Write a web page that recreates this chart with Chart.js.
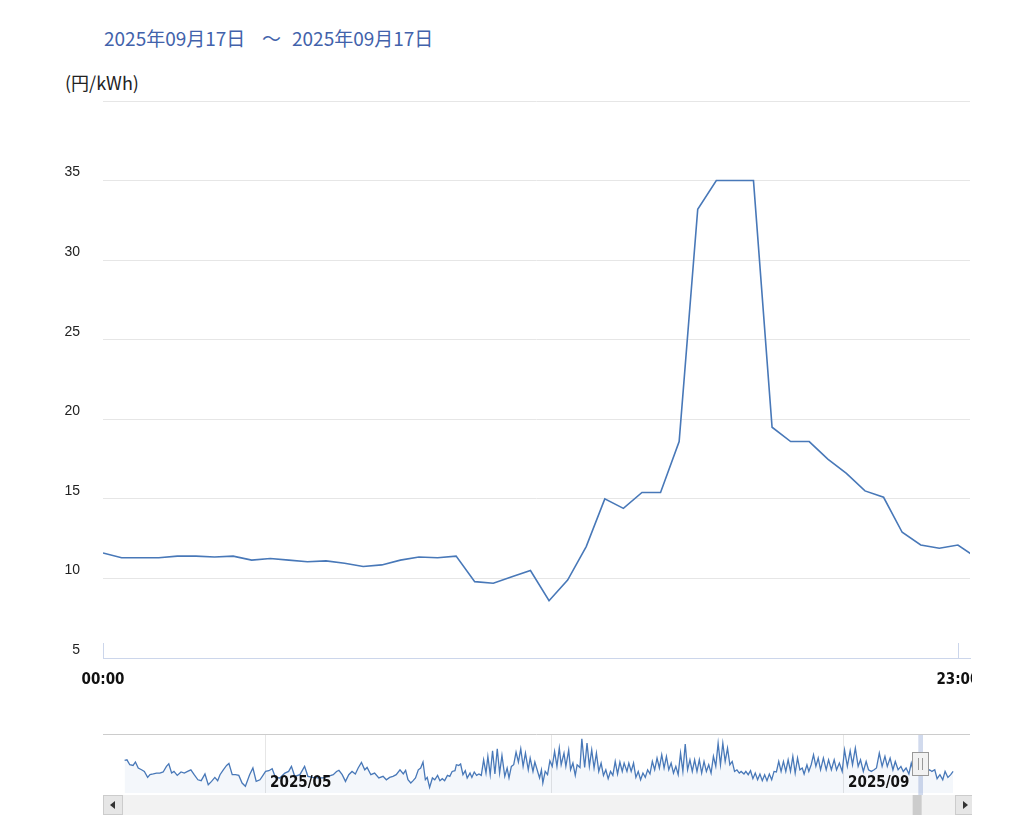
<!DOCTYPE html>
<html>
<head>
<meta charset="utf-8">
<script src="https://cdn.jsdelivr.net/npm/chart.js@4.4.1/dist/chart.umd.min.js"></script>
<style>
  body { margin: 0; background: #fff; width: 1024px; height: 835px; overflow: hidden; position: relative; font-family: "Noto Sans CJK JP", sans-serif; }
  .range { position: absolute; top: 28px; color: #4262ab; font-size: 19px; line-height: 19px; white-space: pre; }
  #unit { position: absolute; top: 73px; left: 65px; font-size: 18px; line-height: 18px; color: #222; }
  #mainBox { position: absolute; left: 0; top: 0; width: 972px; height: 700px; }
  #navBox { position: absolute; left: 0; top: 720px; width: 972px; height: 100px; }
</style>
</head>
<body>
<div class="range" style="left:104px">2025年09月17日</div>
<div class="range" style="left:262px">～</div>
<div class="range" style="left:292px">2025年09月17日</div>
<div id="unit">(円/kWh)</div>
<div id="mainBox"><canvas id="main"></canvas></div>
<div id="navBox"><canvas id="nav"></canvas></div>
<script>
// 30-minute slots for 2025/09/17
const slots = ["00:00","00:30","01:00","01:30","02:00","02:30","03:00","03:30","04:00","04:30","05:00","05:30",
  "06:00","06:30","07:00","07:30","08:00","08:30","09:00","09:30","10:00","10:30","11:00","11:30",
  "12:00","12:30","13:00","13:30","14:00","14:30","15:00","15:30","16:00","16:30","17:00","17:30",
  "18:00","18:30","19:00","19:30","20:00","20:30","21:00","21:30","22:00","22:30","23:00","23:30"];
const prices = [11.6,11.3,11.3,11.3,11.4,11.4,11.35,11.4,11.15,11.25,11.15,11.05,
  11.1,10.95,10.75,10.85,11.15,11.35,11.3,11.4,9.8,9.7,10.1,10.5,
  8.6,9.9,12.0,15.0,14.4,15.4,15.4,18.6,33.2,35,35,35,
  19.5,18.6,18.6,17.5,16.6,15.5,15.1,12.9,12.1,11.9,12.1,11.3];
const xTickLabels = ["00:00", "23:00"];
const yTicks = [5, 10, 15, 20, 25, 30, 35, 40];
const yHidden = [40];

// navigator: days since 2025/04/01 and price
const navDays = [0.1,0.6,1.2,1.9,2.4,3.0,3.7,4.3,5.0,5.5,6.2,6.9,7.6,8.3,9.0,9.5,10.1,10.6,11.3,12.1,12.8,13.5,14.2,14.9,
  15.7,16.4,17.2,17.9,18.6,19.3,19.9,20.4,21.1,21.8,22.3,23.0,23.7,24.4,25.1,25.8,26.7,27.4,28.1,28.9,
  29.4,30.1,30.8,31.5,32.2,33.1,34.2,35.0,35.6,36.3,37.4,38.4,39.1,40.2,41.3,42.3,43.4,44.5,45.2,45.7,
  46.4,47.1,47.8,48.5,49.2,49.8,50.5,51.2,51.7,52.5,53.3,54.2,55.1,55.8,56.5,57.2,57.9,58.7,
  59.4,59.9,60.4,61.0,61.5,62.0,62.6,63.1,63.6,64.1,64.5,65.0,65.6,66.1,66.7,67.2,67.7,68.2,68.8,69.3,
  69.8,70.4,70.7,71.2,71.6,72.1,72.6,73.0,73.6,74.0,74.5,75.0,75.5,76.0,76.5,77.0,77.4,77.9,78.4,78.9,
  79.4,79.9,80.4,81.0,81.5,81.9,82.4,82.9,83.4,83.9,84.4,84.9,85.4,86.0,86.4,87.0,87.4,
  88.4,88.8,89.1,89.6,90.1,90.6,91.1,91.6,92.1,92.6,93.0,93.6,94.0,94.6,95.0,95.5,96.0,96.4,97.0,97.4,
  98.0,98.5,99.0,99.5,100.0,100.5,101.0,101.5,102.0,102.5,103.0,103.5,104.0,104.5,105.0,105.5,106.0,
  106.4,107.0,107.4,107.9,108.4,108.9,109.4,109.9,110.4,110.9,111.4,111.9,112.4,112.9,113.4,113.9,
  114.4,114.9,115.4,115.9,116.4,116.9,117.4,117.9,
  118.4,118.9,119.4,119.9,120.4,120.9,121.4,121.9,122.4,122.9,123.4,123.9,124.4,124.9,125.4,125.9,
  126.4,126.9,127.4,127.9,128.4,128.9,129.4,129.9,130.4,130.9,131.3,131.9,132.3,132.8,133.3,133.8,
  134.3,134.8,135.3,135.8,136.3,136.8,137.3,137.8,138.3,138.8,139.3,139.8,140.3,140.8,141.3,141.8,
  142.3,142.8,143.3,143.8,144.3,144.7,145.3,145.7,146.2,146.7,147.2,147.7,
  148.2,148.8,149.4,149.9,150.5,151.1,151.6,152.2,152.8,153.3,153.9,154.5,155.0,155.6,156.2,156.7,
  157.3,157.9,158.4,159.0,159.6,160.1,160.7,161.3,161.9,162.4,163.0,163.6,164.1,164.7,165.3,165.8,
  166.4,167.0,167.5,168.0,168.5,169.0,169.5,170.0,170.5,171.0,171.4,171.9,172.5,173.0,173.6,174.2,
  174.7,175.3,175.9,176.4];
const navPrices = [23.0,23.3,20.6,20.2,22.1,18.8,17.8,16.9,13.6,15.1,15.5,16.0,16.0,16.6,19.7,21.1,16.0,16.9,14.7,16.6,16.0,16.9,17.8,15.1,
  12.3,11.8,15.5,9.6,11.4,13.6,11.8,15.1,17.8,20.2,21.3,15.1,15.1,14.7,10.5,8.7,15.1,18.8,11.4,12.3,
  14.2,16.9,17.3,18.4,13.6,13.3,16.0,16.9,19.7,14.2,15.1,19.7,14.2,13.6,13.3,13.3,14.2,15.1,16.9,17.5,
  15.1,11.4,15.1,16.9,15.5,18.8,21.9,17.8,19.1,15.1,16.0,13.3,14.2,12.3,13.6,14.2,15.1,17.8,
  15.5,17.5,12.3,10.5,11.8,13.3,17.8,18.8,22.1,12.3,13.6,8.1,13.3,12.3,14.7,11.8,12.9,11.8,14.7,14.2,
  16.9,17.3,20.6,20.2,21.0,15.1,17.3,13.3,16.0,13.6,16.6,14.7,15.5,14.7,23.3,16.0,25.2,15.1,28.3,15.5,
  29.4,16.0,25.7,14.2,18.8,13.3,19.7,20.6,27.6,22.1,29.4,19.7,27.0,17.8,24.3,16.9,22.1,
  13.3,17.8,10.5,16.9,15.1,22.8,19.7,27.9,19.7,29.8,20.6,27.0,19.7,28.8,17.8,21.5,14.7,20.6,19.1,34.9,
  19.1,32.5,19.7,28.8,18.8,27.0,16.9,21.5,14.7,17.8,12.9,16.9,14.7,22.4,15.5,22.1,16.9,
  21.5,16.9,21.5,16.9,21.5,13.6,16.9,12.3,16.0,13.6,17.8,15.5,22.4,17.8,24.3,18.8,
  26.1,18.8,25.2,17.8,21.5,16.0,19.7,15.1,
  27.0,16.9,32.0,17.8,23.3,16.9,23.3,16.9,23.3,16.0,22.4,16.9,20.6,16.0,25.2,19.7,
  32.5,20.6,32.5,22.4,29.8,20.6,22.4,16.9,17.8,16.0,16.9,15.5,16.9,15.1,17.3,12.9,
  16.0,12.3,15.5,11.8,15.1,11.8,15.5,12.3,16.9,16.6,22.4,16.9,22.4,16.9,23.3,16.9,
  25.2,16.0,24.3,17.8,18.8,15.5,20.6,16.9,20.6,26.1,19.7,24.3,
  17.8,24.3,17.8,23.3,17.8,23.3,17.8,21.5,16.9,28.8,19.7,28.3,20.6,29.8,19.7,23.3,
  16.9,22.4,17.8,16.9,17.8,18.8,27.0,19.7,25.2,19.7,24.3,17.8,22.4,17.8,19.7,16.9,
  18.8,15.5,21.5,16.5,20.5,16.5,19.0,16.5,19.0,16.9,17.8,16.9,17.8,12.9,15.1,12.3,
  16.9,13.6,15.1,16.9];
const navMonthDays = [30, 91, 153];
const navMonthLabels = ["2025/05", "", "2025/09"];
const selectedDay = 169; // 2025/09/17

const lineColor = "#4878b8";
const narrowFamily = "'DejaVu Sans Condensed', 'DejaVu Sans', sans-serif";

// little upward tick marks on the time axis
const innerTicks = {
  id: "innerTicks",
  afterDraw(chart) {
    const { ctx, chartArea, scales } = chart;
    ctx.save();
    ctx.strokeStyle = "#ccd6eb";
    ctx.lineWidth = 1;
    scales.x.ticks.forEach((t) => {
      const x = Math.round(scales.x.getPixelForValue(t.value)) + 0.5;
      ctx.beginPath();
      ctx.moveTo(x, chartArea.bottom - 15);
      ctx.lineTo(x, chartArea.bottom);
      ctx.stroke();
    });
    ctx.restore();
  },
};

new Chart(document.getElementById("main"), {
  type: "line",
  data: {
    datasets: [
      {
        data: slots.map((s, i) => ({ x: i, y: prices[i] })),
        borderColor: lineColor,
        borderWidth: 1.6,
        pointRadius: 0,
        tension: 0,
        fill: false,
      },
    ],
  },
  options: {
    responsive: true,
    maintainAspectRatio: false,
    animation: false,
    layout: { padding: { top: 101, right: 2, left: 0, bottom: 0 } },
    plugins: { legend: { display: false }, tooltip: { enabled: false } },
    scales: {
      x: {
        type: "linear",
        min: 0,
        max: 46.65,
        grid: { display: false, drawTicks: false },
        border: { color: "#ccd6eb", width: 1 },
        afterBuildTicks: (s) => {
          s.ticks = xTickLabels.map((l) => ({ value: slots.indexOf(l) }));
        },
        afterFit: (s) => {
          s.height = 42;
          s.paddingLeft = 0;
          s.paddingRight = 0;
        },
        ticks: {
          padding: 13,
          maxRotation: 0,
          autoSkip: false,
          color: "#111",
          font: { family: narrowFamily, size: 15, weight: "bold" },
          callback: (v) => slots[v],
        },
      },
      y: {
        min: 5,
        max: 40,
        border: { display: false },
        grid: {
          drawTicks: false,
          color: (c) => (c.tick && c.tick.value === 5 ? "rgba(0,0,0,0)" : "#e6e6e6"),
        },
        afterBuildTicks: (s) => {
          s.ticks = yTicks.map((v) => ({ value: v }));
        },
        afterFit: (s) => {
          s.width = 103;
          s.paddingTop = 0;
          s.paddingBottom = 0;
        },
        ticks: {
          padding: 23,
          labelOffset: -8,
          color: "#222",
          font: { family: "'Liberation Sans', sans-serif", size: 14 },
          callback: (v) => (yHidden.includes(v) ? "" : String(v)),
        },
      },
    },
  },
  plugins: [innerTicks],
});

// navigator decorations: outline, selected band, handle, scrollbar, month labels
const navDecor = {
  id: "navDecor",
  afterDraw(chart) {
    const { ctx, chartArea, scales } = chart;
    const { left, right, top, bottom } = chartArea;
    const xs = scales.x;
    ctx.save();
    // month labels
    ctx.font = "bold 15px " + narrowFamily;
    ctx.fillStyle = "#111";
    ctx.textBaseline = "alphabetic";
    navMonthDays.forEach((d, i) => {
      if (navMonthLabels[i]) ctx.fillText(navMonthLabels[i], xs.getPixelForValue(d) + 5, bottom - 6);
    });
    // top outline
    ctx.strokeStyle = "#cccccc";
    ctx.lineWidth = 1;
    ctx.beginPath();
    ctx.moveTo(left, top - 0.5);
    ctx.lineTo(right, top - 0.5);
    ctx.stroke();
    // scrollbar track
    const sTop = bottom + 2, sH = 20;
    ctx.fillStyle = "#f2f2f2";
    ctx.fillRect(left, sTop, right - left, sH);
    // selected band
    const x0 = xs.getPixelForValue(selectedDay);
    const x1 = xs.getPixelForValue(selectedDay + 1);
    const hx = (x0 + x1) / 2;
    ctx.fillStyle = "rgba(102,133,194,0.3)";
    ctx.fillRect(x0, top, x1 - x0, bottom - top + 2);
    // scrollbar thumb
    ctx.fillStyle = "#cccccc";
    ctx.fillRect(hx - 8, sTop, 9, sH);
    // buttons
    const button = (bx, dir) => {
      ctx.fillStyle = "#e6e6e6";
      ctx.fillRect(bx, sTop, 20, sH);
      ctx.strokeStyle = "#cccccc";
      ctx.strokeRect(bx + 0.5, sTop + 0.5, 19, sH - 1);
      ctx.fillStyle = "#333";
      ctx.beginPath();
      const cx = bx + 10, cy = sTop + sH / 2;
      ctx.moveTo(cx + 2 * dir, cy - 4);
      ctx.lineTo(cx + 2 * dir, cy + 4);
      ctx.lineTo(cx - 3 * dir, cy);
      ctx.closePath();
      ctx.fill();
    };
    button(left, 1);
    button(right - 15, -1);
    // handle
    const hy = top + 17;
    const bx = Math.round(hx - 8.5);
    ctx.fillStyle = "#f2f2f2";
    ctx.fillRect(bx, hy, 17, 24);
    ctx.strokeStyle = "#999999";
    ctx.strokeRect(bx + 0.5, hy + 0.5, 16, 23);
    [bx + 6.5, bx + 10.5].forEach((lx) => {
      ctx.beginPath();
      ctx.moveTo(lx, hy + 6);
      ctx.lineTo(lx, hy + 18);
      ctx.stroke();
    });
    ctx.restore();
  },
};

new Chart(document.getElementById("nav"), {
  type: "line",
  data: {
    datasets: [
      {
        data: navDays.map((d, i) => ({ x: d, y: navPrices[i] })),
        borderColor: lineColor,
        borderWidth: 1.3,
        backgroundColor: "rgba(72,120,184,0.06)",
        fill: "start",
        pointRadius: 0,
        tension: 0,
      },
    ],
  },
  options: {
    responsive: true,
    maintainAspectRatio: false,
    animation: false,
    layout: { padding: { left: 103, right: 2, top: 15, bottom: 27 } },
    plugins: { legend: { display: false }, tooltip: { enabled: false } },
    scales: {
      x: {
        type: "linear",
        min: -4.5,
        max: 180,
        border: { display: false },
        grid: { color: "#e6e6e6", drawTicks: false },
        ticks: { display: false },
        afterBuildTicks: (s) => {
          s.ticks = navMonthDays.map((v) => ({ value: v }));
        },
        afterFit: (s) => {
          s.height = 0;
          s.paddingLeft = 0;
          s.paddingRight = 0;
        },
      },
      y: { display: false, min: 5, max: 37 },
    },
  },
  plugins: [navDecor],
});
</script>
</body>
</html>
